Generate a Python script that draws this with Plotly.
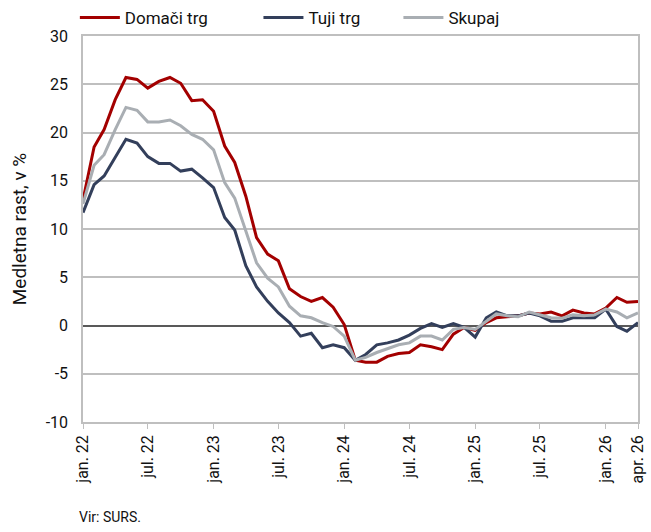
import plotly.graph_objects as go
import pandas as pd

# monthly, jan 2022 .. apr 2026
months = pd.date_range("2022-01-01", "2026-04-01", freq="MS").strftime("%Y-%m-%d").tolist()

domaci = [13.0, 18.5, 20.3, 23.4, 25.7, 25.5, 24.6, 25.3, 25.7, 25.1, 23.3, 23.4,
          22.2, 18.6, 16.9, 13.4, 9.1, 7.4, 6.7, 3.8, 3.0, 2.5, 2.9, 1.9,
          0.1, -3.6, -3.8, -3.8, -3.2, -2.9, -2.8, -2.0, -2.2, -2.5, -0.9, -0.2,
          -0.5, 0.3, 0.8, 0.9, 1.0, 1.3, 1.2, 1.4, 1.0, 1.6, 1.3, 1.2,
          1.8, 2.9, 2.4, 2.5]
tuji = [11.7, 14.6, 15.5, 17.4, 19.3, 18.9, 17.5, 16.8, 16.8, 16.0, 16.2, 15.3,
        14.3, 11.2, 9.9, 6.2, 4.0, 2.5, 1.3, 0.3, -1.1, -0.8, -2.3, -2.0,
        -2.3, -3.6, -3.0, -2.0, -1.8, -1.5, -1.0, -0.3, 0.2, -0.2, 0.2, -0.2,
        -1.2, 0.8, 1.4, 1.0, 1.0, 1.3, 1.0, 0.45, 0.45, 0.8, 0.8, 0.8,
        1.7, -0.1, -0.6, 0.3]
skupaj = [12.6, 16.6, 17.7, 20.3, 22.6, 22.3, 21.1, 21.1, 21.3, 20.7, 19.8, 19.3,
          18.2, 14.8, 13.2, 9.8, 6.5, 4.9, 4.0, 2.0, 1.0, 0.8, 0.3, -0.1,
          -1.1, -3.6, -3.3, -2.8, -2.4, -2.0, -1.8, -1.1, -1.1, -1.5, -0.4, -0.2,
          -0.4, 0.45, 1.2, 1.0, 0.9, 1.4, 1.1, 0.8, 0.75, 1.1, 1.0, 1.1,
          1.7, 1.4, 0.8, 1.3]

tick_dates = ["2022-01-01", "2022-07-01", "2023-01-01", "2023-07-01", "2024-01-01",
              "2024-07-01", "2025-01-01", "2025-07-01", "2026-01-01", "2026-04-01"]
tick_text = ["jan. 22", "jul. 22", "jan. 23", "jul. 23", "jan. 24",
             "jul. 24", "jan. 25", "jul. 25", "jan. 26", "apr. 26"]
y_ticks = [-10, -5, 0, 5, 10, 15, 20, 25, 30]

fig = go.Figure()
fig.add_trace(go.Scatter(x=months, y=domaci, name="Domači trg", mode="lines",
                         line=dict(color="#a30000", width=3), legend="legend"))
fig.add_trace(go.Scatter(x=months, y=tuji, name="Tuji trg", mode="lines",
                         line=dict(color="#333f5b", width=3), legend="legend2"))
fig.add_trace(go.Scatter(x=months, y=skupaj, name="Skupaj", mode="lines",
                         line=dict(color="#a9aeb3", width=3), legend="legend3"))


def leg(x):
    return dict(orientation="h", yref="container", xref="container",
                x=x, y=1.0, xanchor="left", yanchor="top",
                bgcolor="rgba(0,0,0,0)", font=dict(size=17), itemwidth=40)


fig.update_layout(
    width=651, height=532,
    margin=dict(l=83, r=13, t=36, b=110),
    paper_bgcolor="white", plot_bgcolor="white",
    font=dict(family="Roboto", size=16, color="#111111"),
    showlegend=True,
    legend=leg(0.115), legend2=leg(0.397), legend3=leg(0.612),
    annotations=[dict(text="Vir: SURS.", xref="paper", yref="paper",
                      x=-0.01, y=-0.246, xanchor="left", yanchor="middle",
                      showarrow=False, font=dict(size=14))],
)

fig.update_xaxes(
    type="date", range=["2022-01-01", "2026-04-01"], automargin=False,
    tickvals=tick_dates, ticktext=tick_text, tickangle=-90,
    ticks="outside", ticklen=5, tickcolor="#bfbfbf",
    showgrid=False, showline=True, mirror=True, linecolor="#bfbfbf", linewidth=1.5,
    zeroline=False,
)
fig.update_yaxes(
    range=[-10, 30], tickvals=y_ticks, ticktext=[str(v) for v in y_ticks],
    automargin=False,
    showgrid=True, gridcolor="#bfbfbf", gridwidth=1.5,
    zeroline=True, zerolinecolor="#595959", zerolinewidth=1.5,
    showline=True, mirror=True, linecolor="#bfbfbf", linewidth=1.5,
    ticklabelstandoff=10,
    title=dict(text="Medletna rast, v %", standoff=14),
)

# the page body has a default margin; drop it so the figure fills the window
fig.write_html("out.html", config={"displayModeBar": False},
               post_script="document.body.style.margin='0';")
